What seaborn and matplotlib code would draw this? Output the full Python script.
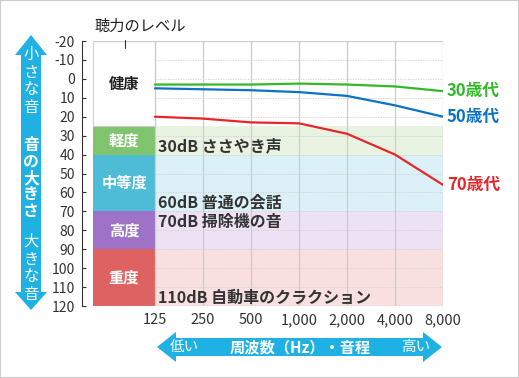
" 年代別の聴力レベル "
import numpy as np
import pandas as pd
import matplotlib
matplotlib.use('Agg')
import matplotlib.pyplot as plt
from matplotlib.patches import Polygon, Rectangle
from matplotlib.lines import Line2D
import seaborn as sns

# 周波数（カテゴリ）
FREQ_LABELS = ['125', '250', '500', '1,000', '2,000', '4,000', '8,000']

# 年代別の聴力レベル (dB)
AGE_GROUPS = ['30歳代', '50歳代', '70歳代']
AGE_30 = [3, 3, 3, 2.5, 3, 4, 6.5]
AGE_50 = [5, 5.5, 6, 7, 9, 14, 20]
AGE_70 = [20, 21, 23, 23.5, 29, 40, 56]
AGE_COLORS = ['#33b82a', '#0b72c6', '#e8262a']

# 聴力の区分
BAND_NAMES = ['健康', '軽度', '中等度', '高度', '重度']
BAND_LOW = [-20, 25, 40, 70, 90]
BAND_HIGH = [25, 40, 70, 90, 120]
BAND_COLORS = ['#ffffff', '#80c46f', '#4ebcd6', '#9e72c6', '#de6262']
BAND_SHADES = ['#ffffff', '#e9f3e2', '#dcf1f7', '#ede2f4', '#f8e0e0']
BAND_TEXT = ['#222222', 'white', 'white', 'white', 'white']

# 身近な音の大きさ
SOUND_DB = [30, 60, 70, 110]
SOUND_NAMES = ['ささやき声', '普通の会話', '掃除機の音', '自動車のクラクション']

W, H = 519, 378


def fx(px):
    return px / W


def fy(py):
    return 1 - py / H


if __name__ == "__main__":
    sns.set_theme(style='white')
    plt.rcParams['font.family'] = ['Noto Sans CJK JP', 'DejaVu Sans']
    plt.rcParams['axes.unicode_minus'] = False

    df = pd.DataFrame({
        'freq': np.tile(np.arange(len(FREQ_LABELS)), len(AGE_GROUPS)),
        'level': AGE_30 + AGE_50 + AGE_70,
        'age': np.repeat(AGE_GROUPS, len(FREQ_LABELS)),
    })

    fig = plt.figure(figsize=(W / 100, H / 100), dpi=100)
    ax = fig.add_axes([fx(82), fy(306), (443 - 82) / W, (306 - 41) / H])
    n = len(FREQ_LABELS) - 1
    col_left = -1.29

    # 区分の帯
    for lo, hi, c, s in zip(BAND_LOW, BAND_HIGH, BAND_COLORS, BAND_SHADES):
        ax.bar(col_left / 2, hi - lo, bottom=lo, width=-col_left, color=c, linewidth=0, zorder=1)
        ax.bar(n / 2, hi - lo, bottom=lo, width=n, color=s, linewidth=0, zorder=1)
    ax.add_patch(Rectangle((col_left, -20), -col_left, 45, fill=False,
                           edgecolor='#cfcfcf', linewidth=0.8, zorder=2))

    # グリッド
    yt = np.arange(-20, 121, 10)
    ax.hlines(yt[1:-1], 0, n, color='#cfcfcf', linewidth=0.6, linestyle=(0, (1.5, 1.5)), zorder=2)
    ax.vlines(np.arange(n + 1), -20, 120, color='#cccccc', linewidth=0.9, zorder=2)
    ax.hlines([-20, 120], col_left, n, color='#cccccc', linewidth=0.9, zorder=2)

    sns.lineplot(data=df, x='freq', y='level', hue='age', palette=AGE_COLORS,
                 linewidth=1.6, legend=False, ax=ax, zorder=3)

    for name, lo, hi, tc in zip(BAND_NAMES, BAND_LOW, BAND_HIGH, BAND_TEXT):
        ax.text(col_left / 2, (lo + hi) / 2, name, ha='center', va='center',
                fontsize=11, fontweight='bold', color=tc, zorder=4)
    for db, name in zip(SOUND_DB, SOUND_NAMES):
        ax.text(0.07, db + 5.5, f'{db}dB {name}', ha='left', va='center',
                fontsize=11.5, fontweight='bold', color='#333333', zorder=4)
    for name, vals, c in zip(AGE_GROUPS, [AGE_30, AGE_50, AGE_70], AGE_COLORS):
        ax.text(n + 0.08, vals[-1], name, ha='left', va='center', fontsize=12,
                fontweight='bold', color=c, clip_on=False)

    ax.set_xlim(-1.52, n)
    ax.set_ylim(120, -20)
    ax.set_yticks(yt)
    ax.set_xticks(np.arange(n + 1))
    ax.set_xticklabels(FREQ_LABELS)
    ax.set_xlabel('')
    ax.set_ylabel('')
    for side in ['top', 'right', 'bottom']:
        ax.spines[side].set_visible(False)
    ax.spines['left'].set_color('#333333')
    ax.spines['left'].set_linewidth(0.8)
    ax.tick_params(axis='y', direction='in', length=3, width=0.8, color='#333333',
                   labelsize=10, labelcolor='#333333', pad=5, left=True)
    ax.tick_params(axis='x', length=0, labelsize=10.5, labelcolor='#333333', pad=5)
    ax.set_facecolor('white')

    # 見出し
    fig.text(fx(140), fy(26), '聴力のレベル', ha='center', va='center', fontsize=11, color='#222222')
    fig.add_artist(Line2D([fx(125), fx(125)], [fy(40), fy(48)], color='#333333', linewidth=0.8))

    # 矢印
    arrow_c = '#1fb1e3'
    v = [(31, 35), (47, 55), (41, 55), (41, 292), (47, 292), (31, 310),
         (15, 292), (21, 292), (21, 55), (15, 55)]
    fig.add_artist(Polygon([(fx(a), fy(b)) for a, b in v], closed=True,
                           facecolor=arrow_c, edgecolor='none'))
    h = [(157, 347), (176, 332), (176, 338), (423, 338), (423, 332), (442, 347),
         (423, 362), (423, 356), (176, 356), (176, 362)]
    fig.add_artist(Polygon([(fx(a), fy(b)) for a, b in h], closed=True,
                           facecolor=arrow_c, edgecolor='none'))

    fig.text(fx(31), fy(81), '\n'.join('小さな音'), ha='center', va='center',
             fontsize=11, color='white', linespacing=1.05)
    fig.text(fx(31), fy(178), '\n'.join('音の大きさ'), ha='center', va='center',
             fontsize=11.5, fontweight='bold', color='white', linespacing=1.02)
    fig.text(fx(31), fy(268), '\n'.join('大きな音'), ha='center', va='center',
             fontsize=11, color='white', linespacing=1.05)
    fig.text(fx(184), fy(347), '低い', ha='center', va='center', fontsize=10.5, color='white')
    fig.text(fx(300), fy(347), '周波数（Hz）・音程', ha='center', va='center',
             fontsize=11, fontweight='bold', color='white')
    fig.text(fx(416), fy(347), '高い', ha='center', va='center', fontsize=10.5, color='white')

    fig.add_artist(Rectangle((0, 0), 1, 1, transform=fig.transFigure, fill=False,
                             edgecolor='#cccccc', linewidth=1.5))

    fig.savefig('out.png', dpi=100)
